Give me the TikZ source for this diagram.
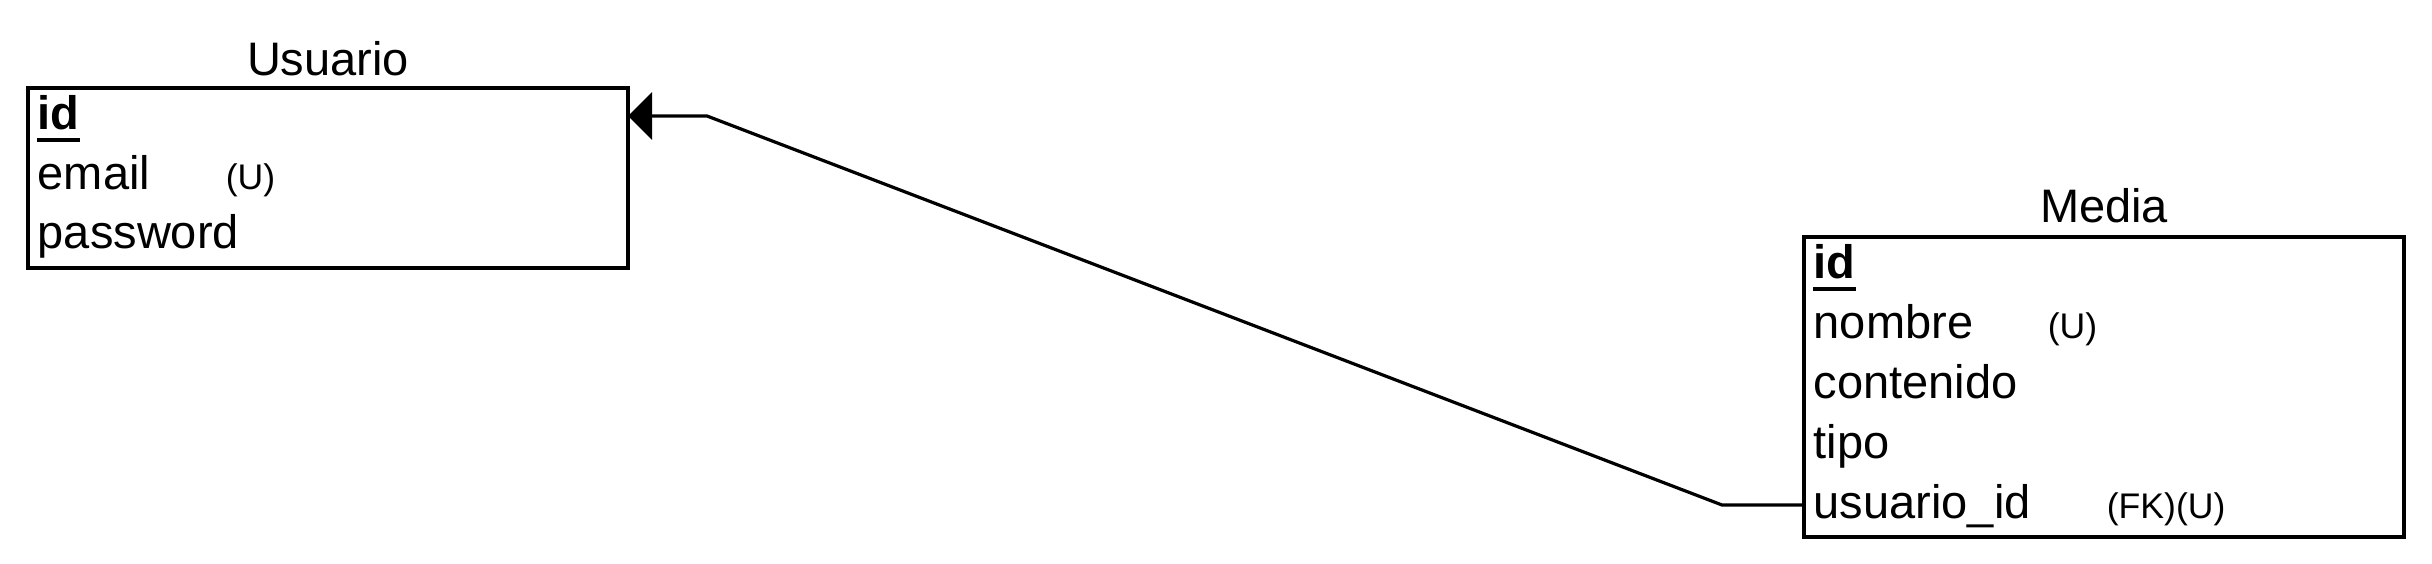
\documentclass[tikz,border=0pt]{standalone}
\usepackage{fontspec}
\setmainfont{Liberation Sans}
\usetikzlibrary{arrows.meta}
\tikzset{
  tablebox/.style={draw, line width=1pt, inner sep=0pt, outer sep=0pt, minimum width=150pt},
  title/.style={anchor=base, inner sep=0pt, font=\fontsize{11.75}{14}\selectfont},
  field/.style={anchor=base west, inner sep=0pt, font=\fontsize{11.75}{14}\selectfont},
  pkfield/.style={field, font=\fontsize{11.75}{14}\selectfont\bfseries},
  tag/.style={anchor=base west, inner sep=0pt, font=\fontsize{8.9}{11}\selectfont},
  uline/.style={line width=1pt},
  rel/.style={line width=0.8pt, -{Triangle[length=6pt,width=11.75pt]}}
}
\begin{document}
\begin{tikzpicture}[x=0.25pt,y=-0.25pt]
\useasboundingbox (0,0) rectangle (2432,564);
% Usuario
\node[tablebox, minimum height=45pt] (usuario) at (328,178) {};
\node[title] (usuariotitle) at (328,76) {Usuario};
\node[pkfield] (uid) at (37,130) {id};
\node[field] (uemail) at (37,190) {email};
\node[tag] (uemailtag) at (225,190) {(U)};
\node[field] (upass) at (37,249) {password};
\draw[uline] ([yshift=-2.6pt]uid.base west) -- ([yshift=-2.6pt]uid.base east);
% Media
\node[tablebox, minimum height=75pt] (media) at (2104,387) {};
\node[title] (mediatitle) at (2104,223) {Media};
\node[pkfield] (mid) at (1813,279) {id};
\node[field] (mnombre) at (1813,339) {nombre};
\node[tag] (mnombretag) at (2047,339) {(U)};
\node[field] (mcont) at (1813,399) {contenido};
\node[field] (mtipo) at (1813,459) {tipo};
\node[field] (muid) at (1813,519) {usuario\_id};
\node[tag] (muidtag) at (2106,519) {(FK)(U)};
\draw[uline] ([yshift=-2.6pt]mid.base west) -- ([yshift=-2.6pt]mid.base east);
% connector
\coordinate (src) at (media.west |- 0,505);
\coordinate (b1) at (1722,505);
\coordinate (b2) at (707,116);
\coordinate (dst) at (usuario.east |- 0,116);
\draw[rel] (src) -- (b1) -- (b2) -- (dst);
\end{tikzpicture}
\end{document}
